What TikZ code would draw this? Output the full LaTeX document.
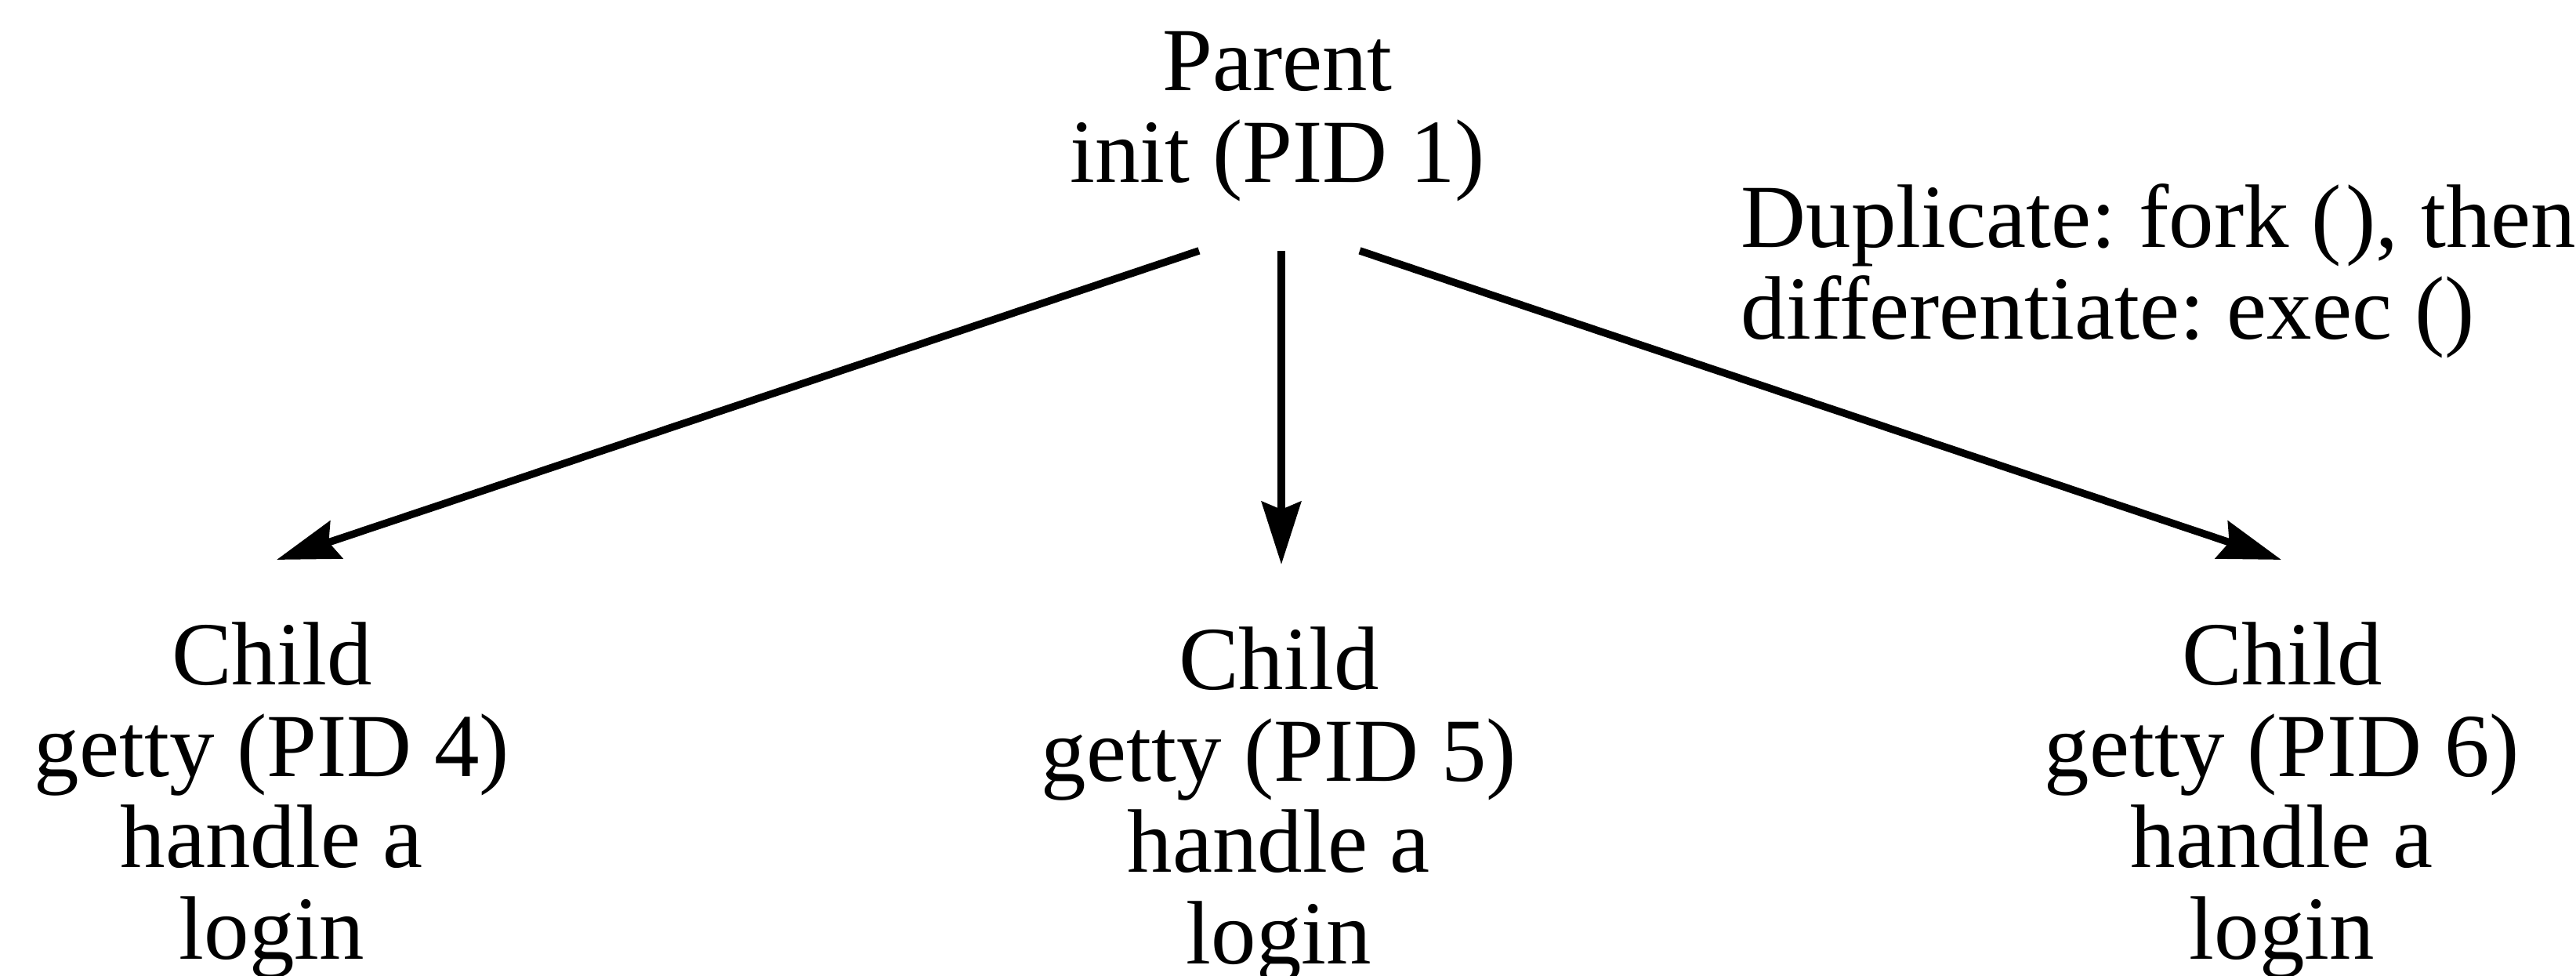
\documentclass[tikz,border=0pt]{standalone}
\usepackage{fontspec}
\setmainfont{Liberation Serif}
\frenchspacing
\usetikzlibrary{arrows.meta,positioning}

\begin{document}
\begin{tikzpicture}[->,>={Stealth[length=8mm,width=5mm,inset=1mm]},line width=2.7pt,
  proc/.style={align=center,inner sep=0pt,anchor=north,font=\fontsize{32.7}{33.2}\selectfont},
  note/.style={align=left,inner sep=0pt,anchor=north west,font=\fontsize{32.7}{33.2}\selectfont}]

  \useasboundingbox (0,0) rectangle (32.87,-12.45);

  % The processes
  \node [proc] at (16.30,-0.36) (init) {Parent\\init (PID 1)};
  \node [proc] at (3.47,-7.89) (g4) {Child\\getty (PID 4)\\handle a\\login};
  \node [proc] at (16.32,-7.95) (g5) {Child\\getty (PID 5)\\handle a\\login};
  \node [proc] at (29.12,-7.89) (g6) {Child\\getty (PID 6)\\handle a\\login};

  \node [note] at (22.17,-2.30) (fork) {Duplicate: fork (\kern0.05em), then\\differentiate: exec ()};

  % Fork edges
  \path[->]
  ([xshift=-1.0cm,yshift=-0.58cm]init.south) edge ([xshift=0.06cm,yshift=0.75cm]g4.north)
  ([xshift=0.05cm,yshift=-0.58cm]init.south) edge ([xshift=0.03cm,yshift=0.75cm]g5.north)
  ([xshift=1.05cm,yshift=-0.58cm]init.south) edge ([xshift=-0.01cm,yshift=0.75cm]g6.north);

\end{tikzpicture}
\end{document}
